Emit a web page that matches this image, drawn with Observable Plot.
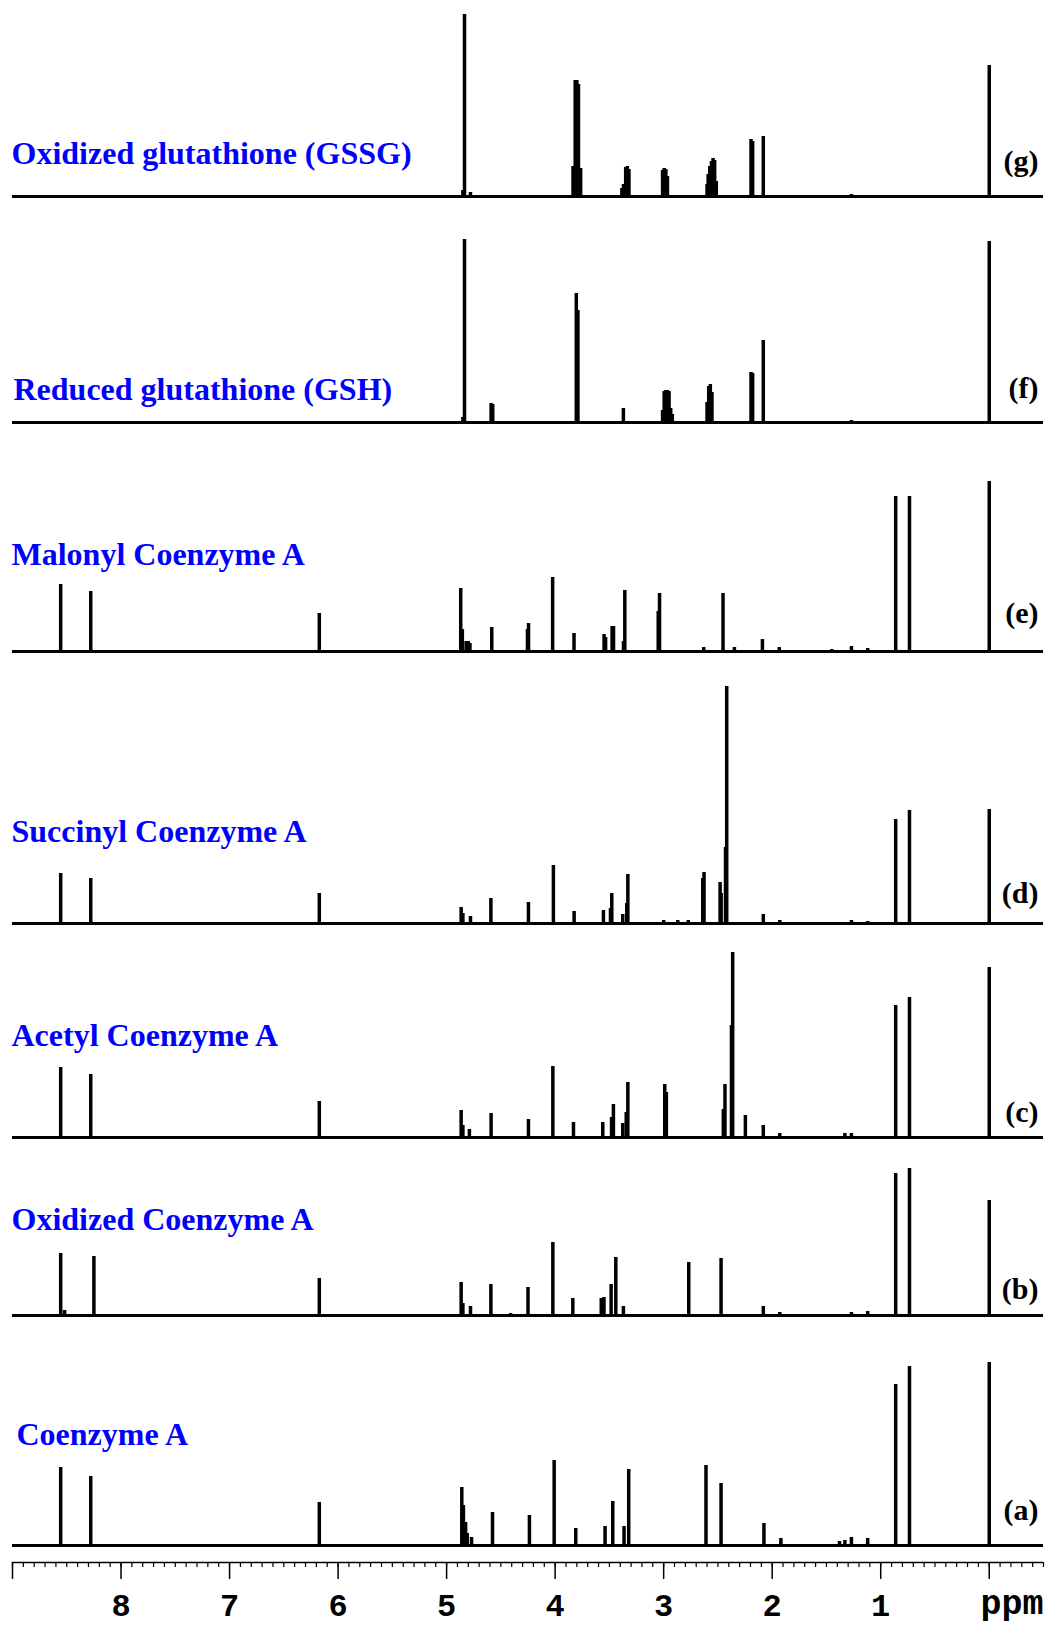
<!DOCTYPE html>
<html>
<head>
<meta charset="utf-8">
<script src="https://cdn.jsdelivr.net/npm/d3@7"></script>
<script src="https://cdn.jsdelivr.net/npm/@observablehq/plot@0.6"></script>
<style>
html, body { margin: 0; padding: 0; background: #fff; }
#chart svg { display: block; }
</style>
</head>
<body>
<div id="chart"></div>
<script>
// ---- Data (top to bottom) ----
const compounds = [
  "Oxidized glutathione (GSSG)",
  "Reduced glutathione (GSH)",
  "Malonyl Coenzyme A",
  "Succinyl Coenzyme A",
  "Acetyl Coenzyme A",
  "Oxidized Coenzyme A",
  "Coenzyme A"
];
const letters = ["(g)", "(f)", "(e)", "(d)", "(c)", "(b)", "(a)"];

// [chemical shift (ppm), relative intensity]
const peaksG = [
  [4.85,6],[4.835,182],[4.78,4],
  [3.835,30],[3.815,116],[3.80,116],[3.785,112],[3.765,28],
  [3.385,8],[3.37,12],[3.35,29],[3.335,30],[3.32,27],
  [3.01,26],[2.995,28],[2.98,27],[2.965,20],
  [2.60,12],[2.59,22],[2.575,30],[2.56,35],[2.545,38],[2.53,36],[2.515,15],
  [2.195,57],[2.18,55],
  [2.082,60],
  [1.27,2],
  [0.0,131]
];
const peaksF = [
  [4.85,5],[4.835,183],
  [4.59,19],[4.575,18],
  [3.805,129],[3.79,112],
  [3.371,14],
  [3.01,12],[2.995,31],[2.98,32],[2.965,32],[2.95,31],[2.935,14],[2.92,8],
  [2.60,20],[2.585,36],[2.57,38],[2.555,30],
  [2.195,50],[2.18,49],
  [2.082,82],
  [1.27,2],
  [0.0,181]
];
const peaksE = [
  [8.556,67],[8.279,60],[6.173,38],
  [4.87,63],[4.855,22],[4.82,10],[4.80,10],[4.785,8],
  [4.584,24],
  [4.255,22],[4.245,28],
  [4.023,74],
  [3.826,18],
  [3.549,17],[3.535,14],
  [3.475,25],[3.462,25],
  [3.37,10],[3.358,61],
  [3.05,40],[3.038,58],
  [2.631,4],
  [2.453,58],
  [2.348,4],
  [2.09,12],
  [1.935,4],
  [1.45,2],[1.27,5],[1.12,3],
  [0.862,155],[0.735,155],
  [0.0,170]
];
const peaksD = [
  [8.556,50],[8.279,45],[6.173,30],
  [4.866,16],[4.85,10],[4.78,7],
  [4.592,25],
  [4.246,21],
  [4.016,58],
  [3.825,12],
  [3.555,13],
  [3.49,15],[3.478,30],
  [3.377,9],[3.34,20],[3.33,49],
  [3.0,3],[2.87,3],[2.773,3],
  [2.64,45],[2.628,51],
  [2.48,41],[2.47,30],
  [2.43,76],[2.419,237],
  [2.082,9],
  [1.93,3],
  [1.27,3],[1.12,2],
  [0.862,104],[0.735,113],
  [0.0,114]
];
const peaksC = [
  [8.556,70],[8.279,63],[6.173,36],
  [4.866,27],[4.85,12],[4.79,8],
  [4.59,24],
  [4.246,18],
  [4.021,71],
  [3.831,15],
  [3.561,15],
  [3.48,20],[3.463,33],
  [3.377,14],[3.345,25],[3.33,55],
  [2.99,53],[2.975,45],
  [2.45,28],[2.435,53],
  [2.375,112],[2.364,185],
  [2.247,22],
  [2.082,12],
  [1.93,4],
  [1.33,4],[1.27,4],
  [0.862,132],[0.735,140],
  [0.0,170]
];
const peaksB = [
  [8.556,62],[8.52,5],[8.25,59],[6.173,37],
  [4.866,33],[4.85,12],[4.78,9],
  [4.592,31],
  [4.41,2],
  [4.25,28],
  [4.021,73],
  [3.837,17],
  [3.575,17],[3.55,18],
  [3.484,31],[3.441,58],
  [3.371,9],
  [2.769,53],
  [2.471,57],
  [2.082,9],
  [1.93,3],
  [1.27,3],[1.12,4],
  [0.862,142],[0.735,147],
  [0.0,115]
];
const peaksA = [
  [8.556,78],[8.279,69],[6.173,43],
  [4.86,58],[4.845,40],[4.825,23],[4.81,12],[4.77,8],
  [4.577,33],
  [4.237,30],
  [4.009,85],
  [3.81,17],
  [3.54,19],
  [3.469,44],
  [3.365,19],[3.322,76],
  [2.61,80],
  [2.471,62],
  [2.076,22],
  [1.92,7],
  [1.38,4],[1.33,5],[1.27,8],[1.12,7],
  [0.862,161],[0.735,179],
  [0.0,183]
];
const spectra = [peaksG, peaksF, peaksE, peaksD, peaksC, peaksB, peaksA];

// axis ticks (ppm)
const majorTicks = [9, 8, 7, 6, 5, 4, 3, 2, 1, 0];
const labeledTicks = [8, 7, 6, 5, 4, 3, 2, 1];
const unitLabel = "ppm";

// ---- Layout (styling only) ----
const W = 1049;
const ML = 12, MR = 6;
const xDomain = [9, -0.5];
const panelLayout = [
  {height: 199, nameDy: 33, nameDx: -1, letterDy: 26},
  {height: 226, nameDy: 23, nameDx: 1,  letterDy: 25},
  {height: 229, nameDy: 87, nameDx: -1, letterDy: 29},
  {height: 272, nameDy: 82, nameDx: -1, letterDy: 21},
  {height: 214, nameDy: 92, nameDx: -1, letterDy: 16},
  {height: 178, nameDy: 86, nameDx: -1, letterDy: 17},
  {height: 230, nameDy: 101, nameDx: 4, letterDy: 26}
];
const serif = "'Liberation Serif', 'Times New Roman', Times, serif";
const mono = "'Liberation Mono', 'Courier New', monospace";
const MB = 3;

const container = document.getElementById("chart");

spectra.forEach((peaks, i) => {
  const L = panelLayout[i];
  const chart = Plot.plot({
    width: W,
    height: L.height,
    marginLeft: ML, marginRight: MR, marginTop: 0, marginBottom: MB,
    x: {domain: xDomain, axis: null},
    y: {domain: [0, L.height - MB], axis: null},
    marks: [
      Plot.ruleY([0], {stroke: "black", strokeWidth: 3}),
      Plot.ruleX(peaks, {x: d => d[0], y1: 0, y2: d => d[1], stroke: "black", strokeWidth: 3.5}),
      Plot.text([compounds[i]], {
        frameAnchor: "bottom-left", textAnchor: "start", lineAnchor: "bottom",
        dx: L.nameDx, dy: -L.nameDy,
        fill: "#0000ff", fontFamily: serif, fontWeight: "bold", fontSize: 32
      }),
      Plot.text([letters[i]], {
        frameAnchor: "bottom-right", textAnchor: "end", lineAnchor: "bottom",
        dx: -5, dy: -L.letterDy,
        fill: "black", fontFamily: serif, fontWeight: "bold", fontSize: 30
      })
    ]
  });
  container.append(chart);
});

// bottom axis
const minorTicks = d3.range(-5, 91).map(k => k / 10);
const axisChart = Plot.plot({
  width: W,
  height: 79,
  marginLeft: ML, marginRight: MR, marginTop: 14, marginBottom: 65,
  x: {domain: xDomain},
  y: {domain: [0, 1], axis: null},
  style: {fontFamily: mono, fontWeight: "bold", fontSize: "32px"},
  marks: [
    Plot.ruleY([0], {stroke: "black", strokeWidth: 1.5}),
    Plot.axisX(minorTicks, {anchor: "bottom", tickSize: 5, strokeWidth: 1.2, tickFormat: () => "", label: null}),
    Plot.axisX(majorTicks, {
      anchor: "bottom", tickSize: 17, tickPadding: 14, strokeWidth: 1.5, label: null,
      tickFormat: d => labeledTicks.includes(d) ? String(d) : "",
      fontFamily: mono, fontWeight: "bold", fontSize: 32, fill: "black"
    }),
    Plot.text([unitLabel], {
      frameAnchor: "bottom-right", textAnchor: "end", lineAnchor: "bottom",
      dy: 51, fontFamily: mono, fontWeight: "bold", fontSize: 35, fill: "black"
    })
  ]
});
container.append(axisChart);
</script>
</body>
</html>
